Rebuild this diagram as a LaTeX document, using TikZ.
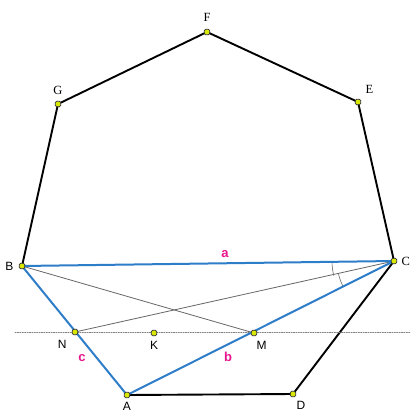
\documentclass[tikz,border=0pt]{standalone}
\usepackage{fontspec}
\setmainfont{Liberation Serif}
\setsansfont{Liberation Sans}
\usetikzlibrary{calc,positioning}
\definecolor{FigureBlue}{HTML}{2E7DC8}
\definecolor{FigurePink}{HTML}{E8168C}
\definecolor{FigureDot}{HTML}{D8E800}
\tikzset{
  vertex/.style={draw=black!80,fill=FigureDot,line width=.7pt,inner sep=0pt,minimum size=5.4pt,rounded corners=1.2pt},
  serifname/.style={font=\fontsize{12.5}{14}\selectfont},
  sansname/.style={font=\sffamily\fontsize{12}{14}\selectfont},
  sidename/.style={FigurePink,font=\sffamily\bfseries\fontsize{13}{15}\selectfont}
}

\begin{document}
\begin{tikzpicture}[x=1pt,y=-1pt,line cap=round,line join=round]
  \useasboundingbox (0,0) rectangle (412,412);
  \coordinate (F) at (207,32);
  \coordinate (G) at (58,104);
  \coordinate (E) at (358,102);
  \coordinate (B) at (22,266);
  \coordinate (C) at (394,261);
  \coordinate (A) at (127,395);
  \coordinate (D) at (293,394);
  \coordinate (N) at (75,332);
  \coordinate (K) at (154,333);
  \coordinate (M) at (254,333);
  \coordinate (L1) at (15,332);
  \coordinate (L2) at (410,332);

  % heptagon
  \draw[line width=1.9pt] (B)--(G)--(F)--(E)--(C)--(D)--(A);
  % parallel through K
  \draw[gray,line width=.7pt,dash pattern=on 1.2pt off 1.2pt] (L1)--(L2);
  % cevians
  \draw[gray!80!black,line width=.8pt] (B)--(M);
  \draw[gray!80!black,line width=.8pt] (N)--(C);
  % angle marks at C
  \draw[gray!80!black,line width=.6pt] ($(C)!62pt!(B)$) arc[start angle=180.77,end angle=193.5,radius=62pt];
  \draw[gray!80!black,line width=.6pt] ($(C)!57pt!(N)$) arc[start angle=192.8,end angle=207.0,radius=57pt];
  % triangle ABC
  \draw[FigureBlue,line width=2pt] (A)--(B)--(C)--cycle;

  \foreach \p in {A,B,C,D,E,F,G,N,K,M}
    \node[vertex] (v\p) at (\p) {};

  \node[serifname,above=4pt of vF] {F};
  \node[serifname,above=3pt of vG] {G};
  \node[serifname,above right=2pt and 1pt of vE] {E};
  \node[serifname,right=1pt of vC] {C};
  \node[sansname,left=2pt of vB] {B};
  \node[sansname,below left=2pt and 2pt of vN] {N};
  \node[sansname,below=2pt of vK] {K};
  \node[sansname,below right=2pt and -4pt of vM] {M};
  \node[sansname,below=1pt of vA] {A};
  \node[sansname,below right=1pt and -3pt of vD] {D};

  \node[sidename] (a) at (225,254) {a};
  \node[sidename] (b) at (228,357) {b};
  \node[sidename] (c) at (82,358) {c};
\end{tikzpicture}
\end{document}
